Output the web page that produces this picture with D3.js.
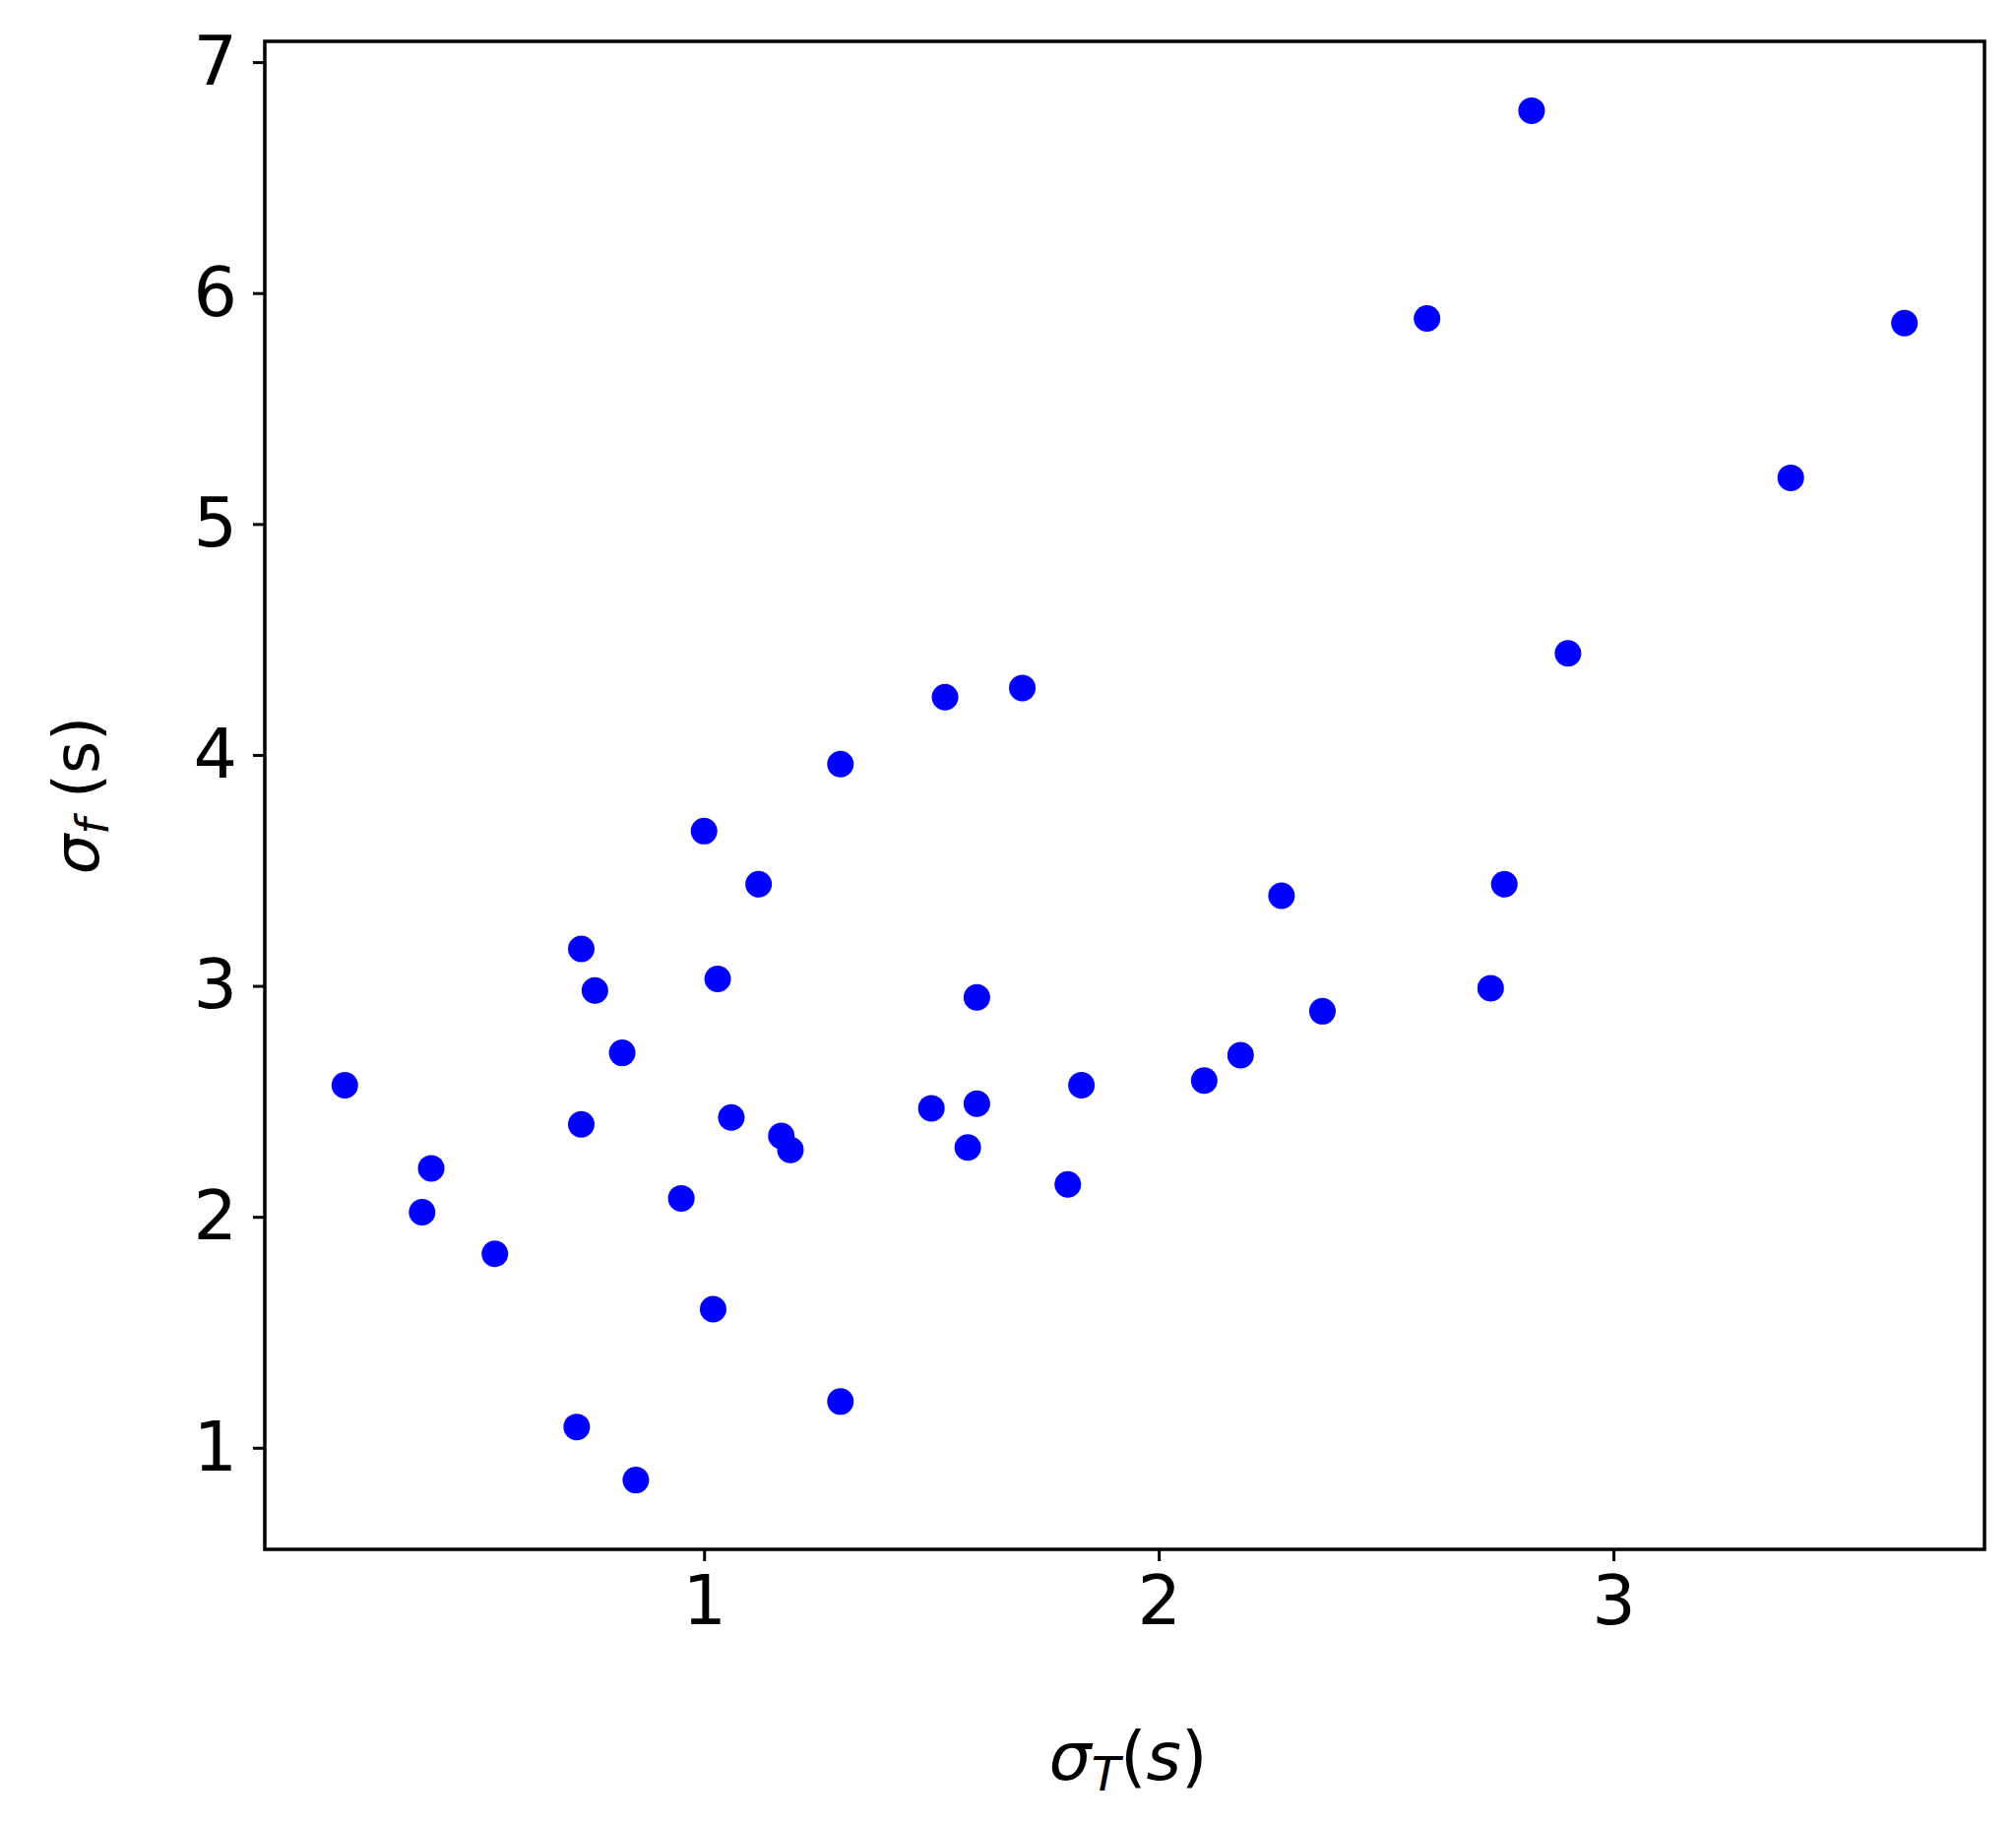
<!DOCTYPE html>
<html>
<head>
<meta charset="utf-8">
<script src="https://cdn.jsdelivr.net/npm/d3@7"></script>
<style>
body { margin: 0; background: #fff; }
text { font-family: "DejaVu Sans", sans-serif; }
</style>
</head>
<body>
<svg id="chart" width="2048" height="1852"></svg>
<script>
// data
var sigmaT = [0.21,0.38,0.40,0.54,0.72,0.73,0.73,0.76,0.82,0.85,0.95,1.00,1.02,1.03,1.06,1.12,1.17,1.19,1.30,1.30,
              1.50,1.53,1.58,1.60,1.60,1.70,1.80,1.83,2.10,2.18,2.27,2.36,2.59,2.73,2.76,2.82,2.90,3.39,3.64];
var sigmaF = [2.57,2.02,2.21,1.84,1.09,3.16,2.40,2.98,2.71,0.86,2.08,3.67,1.60,3.03,2.43,3.44,2.35,2.29,3.96,1.20,
              2.47,4.25,2.30,2.95,2.49,4.29,2.14,2.57,2.59,2.70,3.39,2.89,5.89,2.99,3.44,6.79,4.44,5.20,5.87];
var xTicks = [1, 2, 3];
var yTicks = [1, 2, 3, 4, 5, 6, 7];

var m = {left: 269, right: 2016, top: 42, bottom: 1574};
var svg = d3.select("#chart");

var x = d3.scaleLinear().domain([0.034, 3.816]).range([m.left, m.right]);
var y = d3.scaleLinear().domain([0.56, 7.09]).range([m.bottom, m.top]);

var xAxis = svg.append("g")
    .attr("transform", "translate(0," + m.bottom + ")")
    .call(d3.axisBottom(x).tickValues(xTicks).tickSize(12).tickPadding(14).tickFormat(d3.format("d")));
var yAxis = svg.append("g")
    .attr("transform", "translate(" + m.left + ",0)")
    .call(d3.axisLeft(y).tickValues(yTicks).tickSize(12).tickPadding(16).tickFormat(d3.format("d")));

[xAxis, yAxis].forEach(function(a) {
    a.select(".domain").remove();
    a.selectAll("line").attr("stroke", "#000").attr("stroke-width", 3);
    a.selectAll("text").attr("font-size", 70).attr("fill", "#000")
        .attr("font-family", "DejaVu Sans, sans-serif");
});

svg.append("rect")
    .attr("x", m.left).attr("y", m.top)
    .attr("width", m.right - m.left).attr("height", m.bottom - m.top)
    .attr("fill", "none").attr("stroke", "#000").attr("stroke-width", 3.5);

svg.append("g").selectAll("circle")
    .data(sigmaT.map(function(d, i) { return [d, sigmaF[i]]; }))
    .enter()
    .append("circle")
    .attr("cx", function(d) { return x(d[0]); })
    .attr("cy", function(d) { return y(d[1]); })
    .attr("r", 13.5)
    .attr("fill", "#0000ff");

// axis labels
var xl = svg.append("text")
    .attr("x", 1146).attr("y", 1808)
    .attr("text-anchor", "middle").attr("font-size", 68);
xl.append("tspan").attr("font-style", "italic").text("σ");
xl.append("tspan").attr("font-style", "italic").attr("font-size", 48).attr("dy", 11).text("T");
xl.append("tspan").attr("dy", -11).text("(");
xl.append("tspan").attr("font-style", "italic").text("s");
xl.append("tspan").text(")");

var yl = svg.append("text")
    .attr("transform", "translate(100," + ((m.top + m.bottom) / 2) + ") rotate(-90)")
    .attr("text-anchor", "middle").attr("font-size", 64);
yl.append("tspan").attr("font-style", "italic").text("σ");
yl.append("tspan").attr("font-style", "italic").attr("font-size", 46).attr("dy", 10).text("f");
yl.append("tspan").attr("dy", -10).text(" (s)");
</script>
</body>
</html>
